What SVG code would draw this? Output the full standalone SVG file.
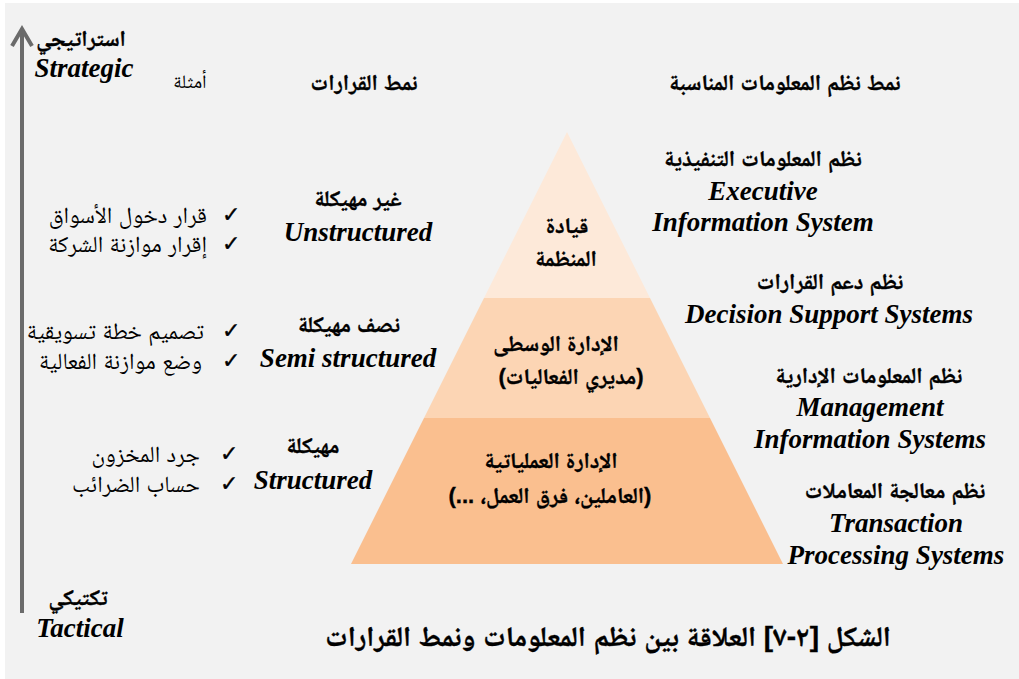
<svg xmlns="http://www.w3.org/2000/svg" width="1019" height="679" viewBox="0 0 1019 679">
<defs>
<style>
.ar{font-family:"Liberation Sans","Noto Naskh Arabic","Noto Sans Arabic","DejaVu Sans",sans-serif;fill:#000}
.arb{font-family:"Liberation Sans","Noto Naskh Arabic","Noto Sans Arabic","DejaVu Sans",sans-serif;font-weight:bold;fill:#000;stroke:#000;stroke-width:0.35}
.en{font-family:"Liberation Serif","Times New Roman","DejaVu Serif",serif;font-style:italic;font-weight:bold;fill:#000;font-size:27px}
.ck{font-family:"DejaVu Sans",sans-serif;fill:#000;stroke:#000;stroke-width:0.4;font-size:22px}
</style>
</defs>
<rect x="0" y="0" width="1019" height="679" fill="#ffffff"/>
<rect x="5" y="3" width="1014" height="676" fill="#f2f2f2"/>

<g id="connectors">
<line x1="22" y1="30" x2="22" y2="613" stroke="#6b6b6b" stroke-width="4"/>
<polyline points="12,46 22,29 32,46" fill="none" stroke="#6b6b6b" stroke-width="4" stroke-linejoin="miter"/>
</g>

<g id="axis-labels">
<text class="arb" x="81" y="46" font-size="22" text-anchor="middle" direction="rtl">استراتيجي</text>
<text class="en" x="84" y="77" text-anchor="middle">Strategic</text>
<text class="arb" x="78" y="605" font-size="22" text-anchor="middle" direction="rtl">تكتيكي</text>
<text class="en" x="80" y="637" text-anchor="middle">Tactical</text>
</g>

<g id="headers">
<text class="ar" x="190" y="88" font-size="19" text-anchor="middle" direction="rtl">أمثلة</text>
<text class="arb" x="364" y="90" font-size="22" text-anchor="middle" direction="rtl">نمط القرارات</text>
<text class="arb" x="785" y="90" font-size="22" text-anchor="middle" direction="rtl">نمط نظم المعلومات المناسبة</text>
</g>

<g id="pyramid">
<g id="tier-top">
<polygon points="567,132 484,298 650,298" fill="#fde9d9"/>
<text class="arb" x="567" y="233" font-size="22" text-anchor="middle" direction="rtl">قيادة</text>
<text class="arb" x="566" y="266" font-size="22" text-anchor="middle" direction="rtl">المنظمة</text>
</g>
<g id="tier-middle">
<polygon points="484,298 650,298 710,418 424,418" fill="#fcd5b4"/>
<text class="arb" x="556" y="351" font-size="22" text-anchor="middle" direction="rtl">الإدارة الوسطى</text>
<text class="arb" x="571" y="384" font-size="22" text-anchor="middle" direction="rtl">(مديري الفعاليات)</text>
</g>
<g id="tier-bottom">
<polygon points="424,418 710,418 783,564 351,564" fill="#fabf8f"/>
<text class="arb" x="551" y="468" font-size="22" text-anchor="middle" direction="rtl">الإدارة العملياتية</text>
<text class="arb" x="550" y="503" font-size="22" text-anchor="middle" direction="rtl">(العاملين، فرق العمل، ...)</text>
</g>
</g>

<g id="decision-types">
<g id="unstructured">
<text class="arb" x="358" y="206" font-size="22" text-anchor="middle" direction="rtl">غير مهيكلة</text>
<text class="en" x="358" y="241" text-anchor="middle">Unstructured</text>
</g>
<g id="semi-structured">
<text class="arb" x="349" y="332" font-size="22" text-anchor="middle" direction="rtl">نصف مهيكلة</text>
<text class="en" x="348" y="367" text-anchor="middle">Semi structured</text>
</g>
<g id="structured">
<text class="arb" x="313" y="453" font-size="22" text-anchor="middle" direction="rtl">مهيكلة</text>
<text class="en" x="313" y="489" text-anchor="middle">Structured</text>
</g>
</g>

<g id="examples">
<text class="ck" x="222" y="222">✓</text>
<text class="ar" x="207" y="223" font-size="23" text-anchor="end">قرار دخول الأسواق</text>
<text class="ck" x="222" y="251">✓</text>
<text class="ar" x="207" y="252" font-size="23" text-anchor="end">إقرار موازنة الشركة</text>
<text class="ck" x="222" y="338">✓</text>
<text class="ar" x="204" y="339" font-size="23" text-anchor="end">تصميم خطة تسويقية</text>
<text class="ck" x="222" y="368">✓</text>
<text class="ar" x="202" y="369" font-size="23" text-anchor="end">وضع موازنة الفعالية</text>
<text class="ck" x="220" y="461">✓</text>
<text class="ar" x="200" y="462" font-size="23" text-anchor="end">جرد المخزون</text>
<text class="ck" x="220" y="491">✓</text>
<text class="ar" x="200" y="492" font-size="23" text-anchor="end">حساب الضرائب</text>
</g>

<g id="systems">
<g id="eis">
<text class="arb" x="763" y="166" font-size="22" text-anchor="middle" direction="rtl">نظم المعلومات التنفيذية</text>
<text class="en" x="763" y="200" text-anchor="middle">Executive</text>
<text class="en" x="763" y="231" text-anchor="middle">Information System</text>
</g>
<g id="dss">
<text class="arb" x="830" y="289" font-size="22" text-anchor="middle" direction="rtl">نظم دعم القرارات</text>
<text class="en" x="829" y="323" text-anchor="middle">Decision Support Systems</text>
</g>
<g id="mis">
<text class="arb" x="869" y="383" font-size="22" text-anchor="middle" direction="rtl">نظم المعلومات الإدارية</text>
<text class="en" x="870" y="416" text-anchor="middle">Management</text>
<text class="en" x="870" y="448" text-anchor="middle">Information Systems</text>
</g>
<g id="tps">
<text class="arb" x="895" y="498" font-size="22" text-anchor="middle" direction="rtl">نظم معالجة المعاملات</text>
<text class="en" x="896" y="532" text-anchor="middle">Transaction</text>
<text class="en" x="896" y="564" text-anchor="middle">Processing Systems</text>
</g>
</g>

<g id="caption">
<text class="arb" x="608" y="646" font-size="28" text-anchor="middle" direction="rtl">الشكل [٢-٧] العلاقة بين نظم المعلومات ونمط القرارات</text>
</g>
</svg>
